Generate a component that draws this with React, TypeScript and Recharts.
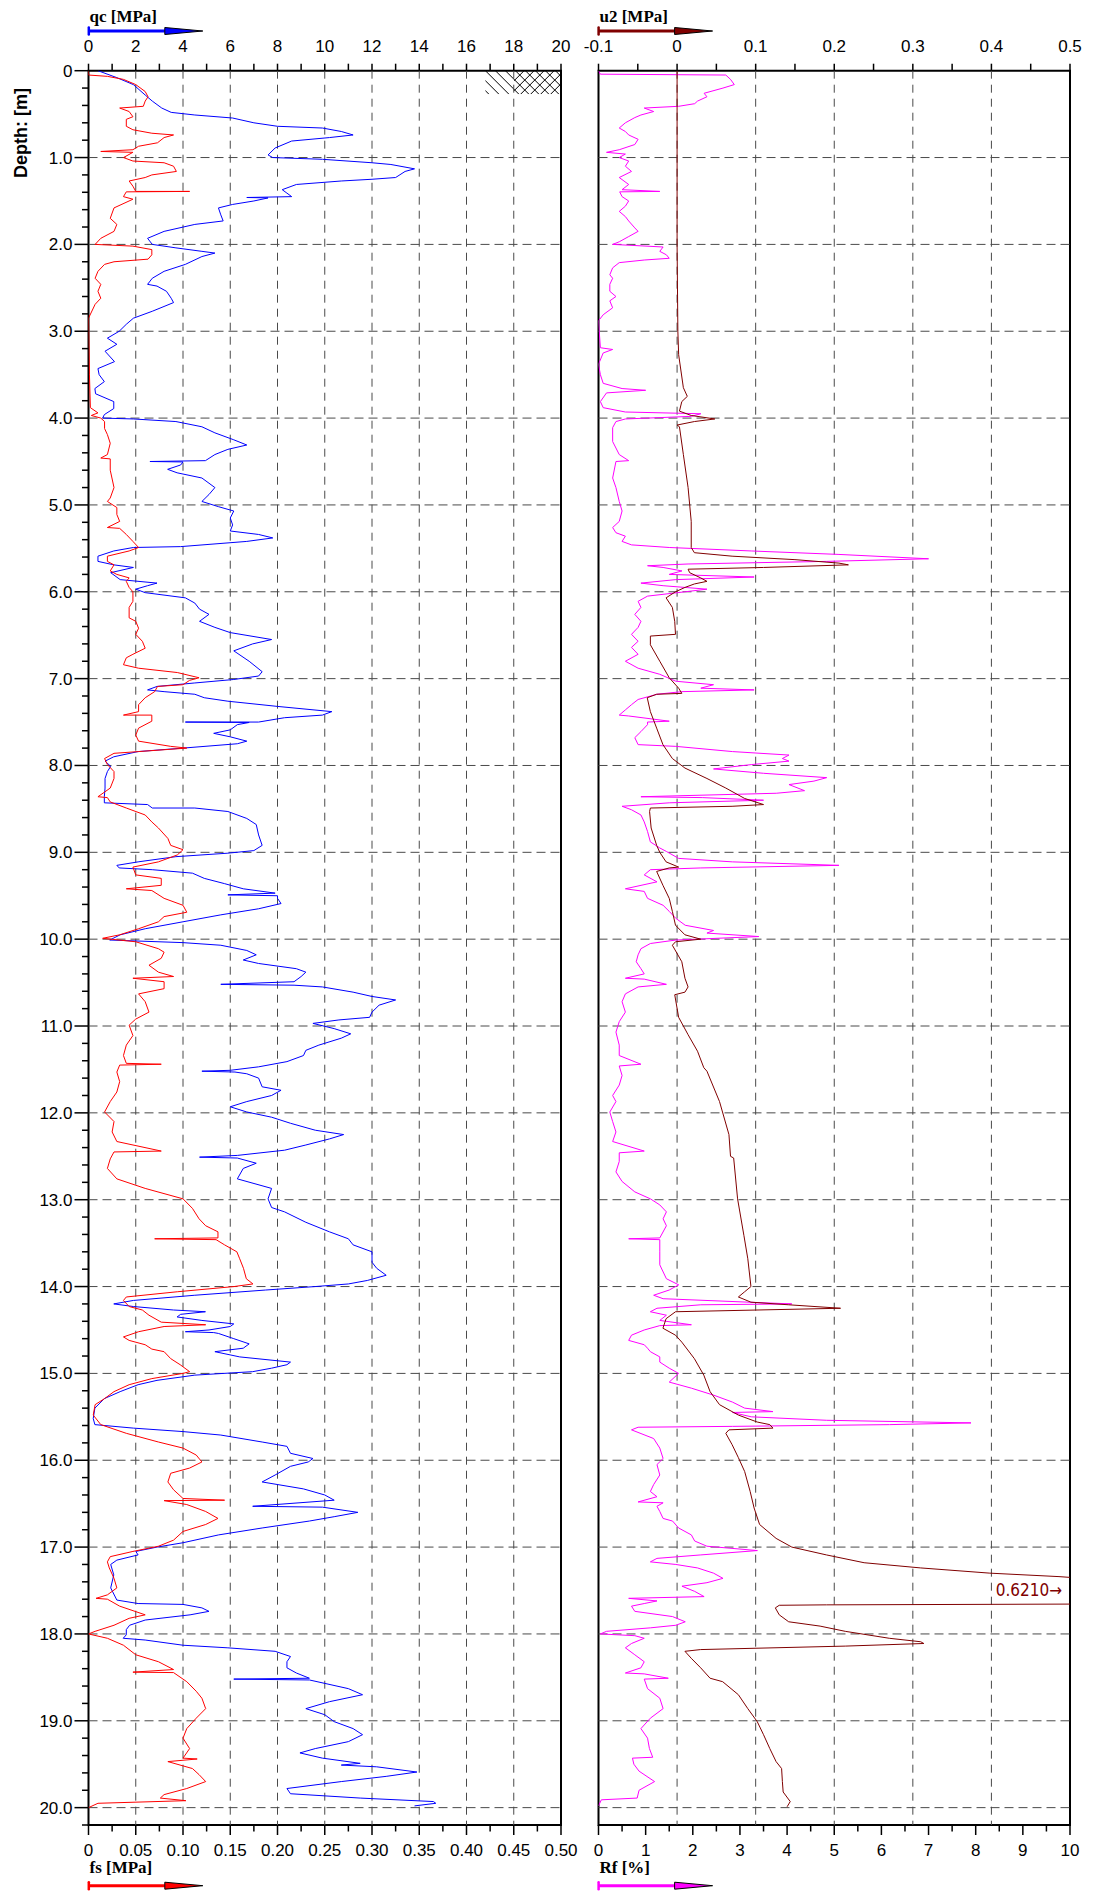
import { LineChart, Line, XAxis, YAxis, ReferenceLine, ReferenceArea, ReferenceDot } from 'recharts'

// CPT sounding, [depth m, value]
const qcProfile: [number, number][] = [
  [0, 0.4], [0.08, 1.2], [0.16, 1.9], [0.28, 2.4], [0.35, 2.7], [0.43, 3.1], [0.48, 3.5], [0.51, 4.5], [0.545, 6.1], [0.6, 7.0],
  [0.64, 8.0], [0.66, 9.9], [0.7, 10.7], [0.74, 11.2], [0.77, 10.2], [0.81, 8.6], [0.89, 7.9], [0.97, 7.6], [1.0, 7.8], [1.02, 9.9],
  [1.06, 12.0], [1.08, 12.8], [1.13, 13.8], [1.16, 13.4], [1.23, 13.0], [1.25, 12.0], [1.27, 10.7], [1.31, 8.8], [1.37, 8.2], [1.41, 8.4],
  [1.45, 8.6], [1.46, 6.7], [1.465, 7.6], [1.5, 7.0], [1.54, 6.1], [1.58, 5.5], [1.66, 5.6], [1.73, 5.7], [1.77, 4.5], [1.85, 3.2],
  [1.93, 2.5], [2.0, 2.7], [2.04, 3.7], [2.08, 4.8], [2.1, 5.35], [2.14, 4.8], [2.23, 4.1], [2.31, 3.2], [2.39, 2.7], [2.46, 2.5],
  [2.48, 2.9], [2.54, 3.3], [2.62, 3.5], [2.67, 3.6], [2.77, 2.7], [2.85, 1.9], [2.92, 1.6], [3.0, 1.3], [3.08, 0.8], [3.15, 1.2],
  [3.23, 0.7], [3.35, 1.1], [3.43, 0.4], [3.5, 0.45], [3.58, 0.67], [3.66, 0.27], [3.72, 0.3], [3.81, 1.07], [3.89, 1.07], [3.96, 0.67],
  [4.0, 0.6], [4.01, 1.9], [4.04, 3.7], [4.1, 4.8], [4.17, 5.35], [4.25, 6.15], [4.31, 6.7], [4.36, 5.9], [4.42, 5.35], [4.49, 4.95],
  [4.5, 2.6], [4.505, 4.0], [4.54, 3.9], [4.59, 3.35], [4.63, 3.75], [4.69, 4.8], [4.8, 5.35], [4.88, 5.1], [4.96, 4.8], [5.02, 5.5],
  [5.07, 6.15], [5.15, 6.0], [5.23, 6.1], [5.3, 6.0], [5.34, 7.2], [5.38, 7.8], [5.42, 6.7], [5.48, 3.9], [5.49, 1.9], [5.53, 1.07],
  [5.59, 0.4], [5.65, 0.4], [5.69, 1.07], [5.72, 1.9], [5.78, 0.94], [5.86, 1.34], [5.9, 2.9], [5.93, 2.5], [5.97, 2.0], [6.01, 2.4],
  [6.07, 4.1], [6.13, 4.5], [6.2, 4.7], [6.26, 5.1], [6.34, 4.7], [6.41, 5.35], [6.47, 6.0], [6.55, 7.75], [6.6, 6.95], [6.68, 6.15],
  [6.8, 6.8], [6.92, 7.35], [6.97, 7.2], [7.01, 6.15], [7.05, 4.5], [7.09, 2.9], [7.13, 2.5], [7.15, 3.2], [7.18, 4.5], [7.22, 4.9],
  [7.26, 5.9], [7.32, 8.0], [7.38, 10.3], [7.42, 9.9], [7.45, 8.3], [7.5, 7.2], [7.5, 4.1], [7.505, 6.8], [7.53, 6.3], [7.59, 6.0],
  [7.63, 5.3], [7.67, 6.0], [7.72, 6.7], [7.75, 6.3], [7.8, 4.0], [7.84, 2.1], [7.9, 1.07], [7.95, 0.7], [8.01, 0.94], [8.07, 0.8],
  [8.15, 0.7], [8.26, 0.7], [8.36, 0.67], [8.43, 0.67], [8.45, 2.5], [8.49, 2.7], [8.49, 4.5], [8.53, 5.9], [8.61, 6.7], [8.68, 7.1],
  [8.8, 7.2], [8.92, 7.35], [8.98, 7.0], [9.01, 5.9], [9.05, 3.7], [9.11, 2.1], [9.15, 1.2], [9.18, 1.3], [9.2, 2.7], [9.24, 4.4],
  [9.3, 4.9], [9.36, 5.75], [9.42, 6.55], [9.47, 7.9], [9.49, 5.9], [9.5, 8.0], [9.53, 8.0], [9.59, 8.15], [9.65, 7.2], [9.72, 5.6],
  [9.8, 4.0], [9.88, 2.4], [9.95, 1.34], [10.01, 0.9], [10.04, 4.0], [10.07, 5.6], [10.13, 6.7], [10.18, 7.1], [10.24, 6.55], [10.28, 7.2],
  [10.34, 8.8], [10.38, 9.2], [10.43, 9.0], [10.49, 8.7], [10.52, 5.6], [10.53, 8.7], [10.55, 9.9], [10.61, 11.2], [10.66, 12.0], [10.7, 13.0],
  [10.76, 12.3], [10.84, 12.0], [10.9, 11.9], [10.93, 10.6], [10.97, 9.5], [11.03, 10.4], [11.09, 11.1], [11.14, 10.7], [11.22, 9.75], [11.28, 9.2],
  [11.34, 9.1], [11.41, 8.4], [11.47, 7.2], [11.51, 6.0], [11.52, 4.8], [11.53, 6.2], [11.55, 6.7], [11.6, 7.2], [11.7, 7.35], [11.74, 8.15],
  [11.8, 7.75], [11.87, 6.7], [11.93, 6.0], [11.99, 6.7], [12.05, 7.75], [12.12, 8.55], [12.2, 9.6], [12.25, 10.8], [12.3, 10.2], [12.37, 9.2],
  [12.43, 8.3], [12.49, 6.3], [12.51, 4.7], [12.52, 6.3], [12.58, 7.1], [12.64, 6.55], [12.76, 6.3], [12.87, 7.75], [12.99, 7.6], [13.09, 7.75],
  [13.14, 8.3], [13.26, 9.2], [13.37, 10.2], [13.45, 11.0], [13.52, 11.2], [13.6, 12.0], [13.72, 12.0], [13.79, 12.2], [13.87, 12.6], [13.93, 11.8],
  [13.97, 11.0], [14.0, 9.6], [14.04, 7.5], [14.1, 4.5], [14.16, 1.9], [14.2, 1.07], [14.23, 1.9], [14.27, 3.6], [14.29, 4.95], [14.32, 3.9],
  [14.35, 3.75], [14.39, 4.8], [14.43, 6.15], [14.46, 6.0], [14.5, 5.1], [14.52, 4.1], [14.53, 5.3], [14.54, 5.5], [14.6, 6.15], [14.66, 6.8],
  [14.71, 6.55], [14.75, 5.35], [14.81, 6.4], [14.87, 8.55], [14.9, 8.4], [14.94, 7.75], [14.98, 6.95], [15.02, 4.5], [15.08, 2.9], [15.13, 2.1],
  [15.21, 1.34], [15.29, 0.67], [15.4, 0.27], [15.52, 0.2], [15.59, 0.27], [15.63, 1.9], [15.67, 4.0], [15.71, 5.6], [15.79, 7.35], [15.84, 8.4],
  [15.92, 8.55], [15.98, 9.5], [16.02, 9.3], [16.07, 8.55], [16.17, 7.9], [16.25, 7.35], [16.33, 9.1], [16.4, 10.0], [16.46, 10.4], [16.53, 6.95],
  [16.54, 9.9], [16.6, 11.4], [16.65, 10.4], [16.7, 9.35], [16.78, 7.35], [16.86, 5.5], [16.95, 4.0], [17.0, 2.9], [17.05, 2.0], [17.09, 2.1],
  [17.15, 1.2], [17.2, 0.94], [17.32, 1.07], [17.47, 0.94], [17.61, 1.2], [17.65, 2.1], [17.66, 4.0], [17.7, 4.8], [17.74, 5.1], [17.78, 4.3],
  [17.84, 2.4], [17.9, 1.74], [17.95, 1.6], [18.01, 1.6], [18.05, 1.47], [18.07, 2.4], [18.13, 4.0], [18.16, 5.9], [18.2, 7.9], [18.26, 8.55],
  [18.32, 8.4], [18.39, 8.4], [18.45, 8.8], [18.51, 9.35], [18.52, 6.15], [18.53, 9.35], [18.63, 11.0], [18.7, 11.6], [18.78, 10.2], [18.86, 9.2],
  [18.93, 10.0], [19.01, 10.4], [19.09, 11.2], [19.16, 11.6], [19.24, 11.0], [19.32, 9.6], [19.37, 8.95], [19.43, 9.9], [19.49, 11.5], [19.51, 10.7],
  [19.53, 12.2], [19.59, 13.9], [19.64, 12.6], [19.7, 10.7], [19.78, 8.4], [19.84, 8.55], [19.89, 11.5], [19.93, 14.6], [19.95, 14.7], [19.98, 13.8],
]

const fsProfile: [number, number][] = [
  [0, 0], [0.05, 0], [0.065, 0.02], [0.1, 0.037], [0.16, 0.05], [0.24, 0.06], [0.3, 0.063], [0.35, 0.06], [0.41, 0.058], [0.43, 0.033],
  [0.47, 0.043], [0.53, 0.047], [0.56, 0.04], [0.64, 0.04], [0.68, 0.047], [0.72, 0.067], [0.74, 0.09], [0.77, 0.08], [0.83, 0.073], [0.87, 0.053],
  [0.91, 0.047], [0.93, 0.013], [0.94, 0.047], [1.0, 0.037], [1.04, 0.047], [1.06, 0.08], [1.1, 0.09], [1.16, 0.093], [1.2, 0.067], [1.23, 0.06],
  [1.27, 0.043], [1.33, 0.047], [1.39, 0.05], [1.39, 0.107], [1.395, 0.04], [1.45, 0.037], [1.48, 0.047], [1.58, 0.027], [1.7, 0.023], [1.77, 0.03],
  [1.85, 0.027], [1.93, 0.013], [2.0, 0.007], [2.02, 0.047], [2.06, 0.067], [2.12, 0.067], [2.17, 0.063], [2.2, 0.027], [2.23, 0.017], [2.31, 0.01],
  [2.39, 0.007], [2.46, 0.013], [2.54, 0.01], [2.62, 0.013], [2.69, 0.007], [2.85, 0], [3.5, 0.001], [3.88, 0.002], [3.94, 0.01], [3.97, 0.003],
  [4.0, 0.013], [4.04, 0.017], [4.12, 0.017], [4.19, 0.02], [4.29, 0.023], [4.42, 0.02], [4.46, 0.013], [4.47, 0.023], [4.6, 0.023], [4.8, 0.027],
  [4.92, 0.023], [4.96, 0.02], [5.03, 0.03], [5.11, 0.03], [5.19, 0.033], [5.26, 0.02], [5.27, 0.033], [5.34, 0.04], [5.42, 0.047], [5.49, 0.053],
  [5.53, 0.043], [5.59, 0.02], [5.65, 0.02], [5.69, 0.027], [5.76, 0.023], [5.8, 0.03], [5.84, 0.043], [5.88, 0.04], [5.95, 0.043], [6.0, 0.047],
  [6.11, 0.047], [6.18, 0.043], [6.3, 0.043], [6.34, 0.05], [6.42, 0.053], [6.49, 0.05], [6.57, 0.057], [6.65, 0.06], [6.72, 0.047], [6.76, 0.04],
  [6.84, 0.037], [6.88, 0.053], [6.93, 0.094], [6.99, 0.117], [7.02, 0.107], [7.07, 0.1], [7.09, 0.073], [7.15, 0.07], [7.22, 0.06], [7.3, 0.053],
  [7.38, 0.053], [7.42, 0.037], [7.42, 0.067], [7.49, 0.067], [7.57, 0.053], [7.65, 0.05], [7.72, 0.053], [7.78, 0.087], [7.8, 0.104], [7.84, 0.053],
  [7.86, 0.027], [7.92, 0.017], [7.99, 0.02], [8.07, 0.027], [8.15, 0.027], [8.26, 0.023], [8.36, 0.01], [8.37, 0.02], [8.42, 0.023], [8.49, 0.04],
  [8.57, 0.06], [8.65, 0.067], [8.72, 0.074], [8.84, 0.084], [8.92, 0.087], [8.97, 0.1], [9.03, 0.094], [9.11, 0.074], [9.17, 0.047], [9.26, 0.05],
  [9.3, 0.077], [9.38, 0.077], [9.42, 0.04], [9.44, 0.067], [9.53, 0.08], [9.61, 0.1], [9.69, 0.104], [9.74, 0.08], [9.8, 0.074], [9.88, 0.053],
  [9.95, 0.033], [9.99, 0.015], [10.03, 0.05], [10.11, 0.074], [10.15, 0.08], [10.22, 0.077], [10.3, 0.064], [10.38, 0.074], [10.43, 0.09], [10.45, 0.047],
  [10.49, 0.08], [10.57, 0.08], [10.63, 0.053], [10.72, 0.06], [10.84, 0.064], [10.92, 0.05], [10.99, 0.043], [11.11, 0.047], [11.22, 0.04], [11.34, 0.037],
  [11.43, 0.04], [11.44, 0.077], [11.45, 0.033], [11.53, 0.03], [11.64, 0.033], [11.76, 0.03], [11.87, 0.023], [11.99, 0.017], [12.1, 0.027], [12.22, 0.025],
  [12.33, 0.03], [12.44, 0.077], [12.45, 0.027], [12.53, 0.023], [12.64, 0.02], [12.76, 0.03], [12.87, 0.06], [12.99, 0.1], [13.1, 0.11], [13.22, 0.117],
  [13.3, 0.124], [13.37, 0.137], [13.44, 0.137], [13.45, 0.07], [13.46, 0.135], [13.52, 0.144], [13.6, 0.157], [13.68, 0.16], [13.79, 0.164], [13.91, 0.167],
  [13.97, 0.174], [14.0, 0.154], [14.06, 0.094], [14.12, 0.04], [14.16, 0.037], [14.23, 0.043], [14.27, 0.057], [14.33, 0.064], [14.41, 0.077], [14.44, 0.124],
  [14.46, 0.08], [14.52, 0.053], [14.58, 0.037], [14.62, 0.043], [14.67, 0.06], [14.72, 0.067], [14.75, 0.08], [14.83, 0.087], [14.9, 0.097], [14.98, 0.107],
  [15.0, 0.1], [15.06, 0.067], [15.13, 0.043], [15.21, 0.027], [15.29, 0.017], [15.36, 0.007], [15.48, 0.005], [15.59, 0.013], [15.69, 0.04], [15.79, 0.074],
  [15.86, 0.1], [15.94, 0.114], [16.02, 0.12], [16.09, 0.107], [16.15, 0.087], [16.25, 0.084], [16.34, 0.09], [16.44, 0.1], [16.46, 0.144], [16.465, 0.08],
  [16.51, 0.104], [16.59, 0.124], [16.67, 0.137], [16.74, 0.124], [16.82, 0.1], [16.92, 0.09], [16.99, 0.074], [17.05, 0.047], [17.11, 0.023], [17.17, 0.02],
  [17.24, 0.022], [17.36, 0.027], [17.47, 0.03], [17.55, 0.02], [17.59, 0.008], [17.6, 0.02], [17.68, 0.033], [17.78, 0.06], [17.82, 0.043], [17.9, 0.027],
  [17.97, 0.007], [18.0, 0], [18.05, 0.02], [18.13, 0.037], [18.24, 0.05], [18.32, 0.074], [18.41, 0.09], [18.44, 0.047], [18.445, 0.09], [18.55, 0.104],
  [18.66, 0.114], [18.74, 0.12], [18.86, 0.124], [18.97, 0.114], [19.09, 0.104], [19.2, 0.1], [19.32, 0.107], [19.43, 0.1], [19.44, 0.115], [19.47, 0.084],
  [19.55, 0.11], [19.62, 0.117], [19.7, 0.124], [19.78, 0.104], [19.85, 0.08], [19.89, 0.076], [19.92, 0.103], [19.95, 0.01], [20.0, 0],
]

const u2Profile: [number, number][] = [
  [0, 0], [1, 0], [2, 0], [3, 0.001], [3.27, 0.002], [3.65, 0.008], [3.75, 0.013], [3.81, 0.006], [3.92, 0.003], [3.97, 0.018],
  [4.01, 0.048], [4.04, 0.022], [4.08, 0.0], [4.1, 0.003], [4.42, 0.008], [4.8, 0.014], [5.19, 0.018], [5.49, 0.018], [5.55, 0.022], [5.59, 0.07],
  [5.63, 0.15], [5.67, 0.206], [5.69, 0.218], [5.72, 0.11], [5.74, 0.014], [5.78, 0.016], [5.84, 0.03], [5.88, 0.038], [5.91, 0.022], [5.95, 0.01],
  [6.0, -0.002], [6.07, -0.014], [6.18, -0.006], [6.34, -0.003], [6.49, -0.002], [6.51, -0.034], [6.61, -0.034], [6.8, -0.022], [6.99, -0.01], [7.11, 0.002],
  [7.17, 0.006], [7.18, -0.026], [7.22, -0.038], [7.38, -0.034], [7.57, -0.026], [7.76, -0.018], [7.92, -0.006], [8.03, 0.01], [8.15, 0.038], [8.26, 0.062],
  [8.38, 0.086], [8.45, 0.11], [8.47, 0.07], [8.49, -0.034], [8.53, -0.035], [8.72, -0.033], [8.92, -0.026], [9.0, -0.022], [9.11, -0.014], [9.17, 0.002],
  [9.18, -0.01], [9.22, -0.026], [9.38, -0.018], [9.53, -0.01], [9.68, -0.006], [9.84, -0.002], [9.95, 0.01], [10.0, 0.03], [10.03, -0.002], [10.07, -0.006],
  [10.26, 0.006], [10.45, 0.01], [10.55, 0.014], [10.61, 0.01], [10.64, -0.003], [10.9, 0.002], [11.1, 0.014], [11.29, 0.026], [11.48, 0.034], [11.52, 0.038],
  [11.87, 0.054], [12.25, 0.066], [12.5, 0.068], [12.52, 0.072], [12.99, 0.077], [13.41, 0.085], [13.68, 0.09], [14.0, 0.094], [14.06, 0.086], [14.12, 0.078],
  [14.18, 0.094], [14.21, 0.142], [14.25, 0.208], [14.29, -0.002], [14.37, -0.014], [14.48, -0.018], [14.56, -0.002], [14.64, 0.006], [14.83, 0.022], [15.02, 0.034],
  [15.21, 0.042], [15.36, 0.054], [15.48, 0.078], [15.56, 0.102], [15.59, 0.118], [15.63, 0.122], [15.65, 0.066], [15.69, 0.062], [15.82, 0.07], [15.97, 0.078],
  [16.13, 0.086], [16.36, 0.093], [16.55, 0.098], [16.74, 0.105], [16.9, 0.126], [17.0, 0.146], [17.09, 0.19], [17.18, 0.238], [17.24, 0.31], [17.3, 0.398],
  [17.34, 0.486], [17.4, 0.58], [17.5, 0.621], [17.6, 0.6], [17.655, 0.55], [17.665, 0.19], [17.67, 0.13], [17.7, 0.125], [17.78, 0.13], [17.86, 0.142],
  [17.91, 0.182], [17.97, 0.214], [18.05, 0.27], [18.09, 0.31], [18.11, 0.314], [18.14, 0.214], [18.18, 0.03], [18.2, 0.01], [18.28, 0.018], [18.39, 0.03],
  [18.51, 0.042], [18.55, 0.058], [18.7, 0.078], [18.86, 0.09], [19.01, 0.102], [19.16, 0.11], [19.32, 0.118], [19.47, 0.126], [19.55, 0.133], [19.7, 0.134],
  [19.82, 0.135], [19.93, 0.144], [19.99, 0.14],
]

const rfProfile: [number, number][] = [
  [0, 0], [0.04, 0.04], [0.05, 2.7], [0.1, 2.8], [0.16, 2.88], [0.2, 2.64], [0.26, 2.24], [0.3, 2.3], [0.35, 2.1], [0.38, 2.04],
  [0.41, 1.7], [0.43, 0.97], [0.47, 1.17], [0.51, 0.9], [0.54, 0.77], [0.6, 0.57], [0.66, 0.44], [0.7, 0.57], [0.74, 0.64], [0.79, 0.84],
  [0.85, 0.77], [0.91, 0.44], [0.94, 0.17], [0.96, 0.57], [1.0, 0.44], [1.04, 0.64], [1.1, 0.57], [1.16, 0.7], [1.23, 0.44], [1.31, 0.64],
  [1.37, 0.5], [1.39, 1.3], [1.395, 0.45], [1.45, 0.5], [1.5, 0.64], [1.56, 0.57], [1.62, 0.44], [1.68, 0.57], [1.73, 0.64], [1.81, 0.77],
  [1.85, 0.84], [1.91, 0.64], [1.97, 0.44], [2.0, 0.3], [2.03, 1.37], [2.08, 1.3], [2.12, 1.44], [2.16, 1.5], [2.18, 0.97], [2.21, 0.44],
  [2.27, 0.3], [2.35, 0.24], [2.39, 0.3], [2.46, 0.24], [2.54, 0.24], [2.6, 0.37], [2.65, 0.24], [2.73, 0.3], [2.81, 0.1], [2.88, 0],
  [3.19, 0.04], [3.21, 0.3], [3.25, 0.1], [3.38, 0], [3.5, 0.04], [3.6, 0.1], [3.66, 0.5], [3.68, 1.0], [3.71, 0.17], [3.81, 0.04],
  [3.88, 0.1], [3.93, 0.57], [3.95, 2.17], [3.98, 1.97], [4.01, 0.57], [4.04, 0.37], [4.11, 0.3], [4.27, 0.3], [4.42, 0.44], [4.49, 0.64],
  [4.5, 0.37], [4.69, 0.3], [4.8, 0.37], [4.96, 0.44], [5.07, 0.5], [5.19, 0.44], [5.26, 0.3], [5.32, 0.37], [5.36, 0.57], [5.42, 0.5],
  [5.46, 0.7], [5.49, 1.5], [5.53, 3.24], [5.57, 5.1], [5.62, 7.0], [5.65, 4.84], [5.68, 1.9], [5.7, 1.04], [5.72, 1.37], [5.76, 1.77],
  [5.8, 1.5], [5.83, 3.3], [5.86, 1.64], [5.9, 0.9], [5.93, 1.37], [5.97, 2.3], [6.0, 1.84], [6.05, 1.04], [6.11, 0.84], [6.18, 0.9],
  [6.26, 0.77], [6.34, 0.9], [6.41, 0.84], [6.49, 0.7], [6.57, 0.84], [6.64, 0.7], [6.72, 0.84], [6.8, 0.57], [6.88, 0.84], [6.95, 1.3],
  [7.03, 1.64], [7.07, 2.44], [7.11, 2.17], [7.13, 3.3], [7.15, 1.77], [7.18, 1.24], [7.24, 0.84], [7.3, 0.7], [7.36, 0.57], [7.42, 0.44],
  [7.43, 0.64], [7.49, 1.5], [7.5, 1.04], [7.53, 1.04], [7.61, 0.9], [7.68, 0.77], [7.76, 0.84], [7.78, 1.64], [7.84, 2.84], [7.88, 4.04],
  [7.92, 3.9], [7.95, 4.04], [7.99, 3.24], [8.04, 2.44], [8.09, 3.5], [8.14, 4.84], [8.18, 4.57], [8.22, 4.04], [8.29, 4.37], [8.32, 3.77],
  [8.36, 0.9], [8.37, 2.2], [8.4, 3.5], [8.43, 1.5], [8.47, 0.5], [8.51, 0.7], [8.57, 0.9], [8.65, 0.97], [8.76, 1.04], [8.88, 1.1],
  [8.95, 1.3], [8.99, 1.44], [9.07, 1.7], [9.11, 2.84], [9.15, 5.1], [9.18, 2.17], [9.2, 1.1], [9.26, 0.97], [9.34, 1.24], [9.42, 0.57],
  [9.45, 0.97], [9.53, 1.04], [9.61, 1.37], [9.68, 1.5], [9.76, 1.64], [9.84, 1.84], [9.9, 2.44], [9.93, 2.3], [9.97, 3.4], [10.01, 1.64],
  [10.05, 1.1], [10.11, 0.9], [10.18, 0.84], [10.26, 0.8], [10.34, 0.9], [10.4, 0.97], [10.45, 0.57], [10.46, 0.97], [10.52, 1.44], [10.55, 0.84],
  [10.63, 0.57], [10.72, 0.5], [10.84, 0.57], [10.95, 0.44], [11.07, 0.37], [11.22, 0.44], [11.34, 0.44], [11.44, 0.9], [11.46, 0.44], [11.57, 0.5],
  [11.68, 0.44], [11.8, 0.3], [11.87, 0.37], [11.99, 0.24], [12.1, 0.3], [12.22, 0.37], [12.33, 0.3], [12.44, 0.97], [12.46, 0.44], [12.56, 0.44],
  [12.68, 0.37], [12.79, 0.5], [12.91, 0.77], [12.99, 1.1], [13.06, 1.3], [13.14, 1.44], [13.22, 1.37], [13.3, 1.44], [13.44, 1.3], [13.45, 0.64],
  [13.46, 1.3], [13.6, 1.3], [13.75, 1.3], [13.91, 1.44], [13.98, 1.7], [14.04, 1.5], [14.1, 1.17], [14.14, 1.37], [14.2, 4.1], [14.21, 2.17],
  [14.25, 1.24], [14.29, 1.1], [14.33, 1.44], [14.39, 1.3], [14.44, 1.97], [14.45, 1.3], [14.5, 0.97], [14.56, 0.7], [14.62, 0.64], [14.67, 0.97],
  [14.71, 1.04], [14.75, 1.1], [14.81, 1.3], [14.87, 1.3], [14.94, 1.5], [15.0, 1.7], [15.1, 1.5], [15.17, 1.97], [15.25, 2.44], [15.33, 2.84],
  [15.4, 3.1], [15.44, 3.7], [15.45, 2.84], [15.5, 3.24], [15.54, 4.84], [15.57, 7.9], [15.59, 6.17], [15.61, 2.84], [15.62, 0.84], [15.65, 0.7],
  [15.75, 1.17], [15.86, 1.3], [15.98, 1.37], [16.05, 1.24], [16.17, 1.3], [16.28, 1.17], [16.36, 1.1], [16.42, 1.24], [16.48, 0.84], [16.49, 1.37],
  [16.53, 1.24], [16.59, 1.3], [16.67, 1.37], [16.7, 1.57], [16.78, 1.7], [16.86, 1.97], [16.93, 2.04], [16.99, 2.3], [17.04, 3.37], [17.09, 2.17],
  [17.13, 1.24], [17.17, 1.1], [17.2, 1.64], [17.24, 2.1], [17.3, 2.44], [17.36, 2.64], [17.41, 2.3], [17.45, 1.77], [17.51, 2.04], [17.57, 2.24],
  [17.59, 0.64], [17.62, 1.24], [17.65, 0.97], [17.68, 0.7], [17.74, 0.77], [17.8, 1.57], [17.86, 1.84], [17.9, 1.64], [17.93, 1.1], [17.97, 0.17],
  [18.0, 0.04], [18.02, 0.77], [18.05, 0.97], [18.11, 0.7], [18.16, 0.57], [18.24, 0.77], [18.32, 0.97], [18.39, 0.9], [18.45, 0.57], [18.46, 0.97],
  [18.51, 1.48], [18.52, 0.97], [18.63, 1.04], [18.74, 1.3], [18.86, 1.37], [18.97, 1.1], [19.09, 0.9], [19.2, 1.04], [19.32, 1.08], [19.42, 1.15],
  [19.43, 0.72], [19.5, 0.75], [19.58, 0.86], [19.7, 1.19], [19.8, 0.86], [19.89, 0.82], [19.91, 0.06], [19.98, 0],
]

// axis labels
const depthMajor = [0, 1, 2, 3, 4, 5, 6, 7, 8, 9, 10, 11, 12, 13, 14, 15, 16, 17, 18, 19, 20]
const qcMajor = [0, 2, 4, 6, 8, 10, 12, 14, 16, 18, 20]
const fsMajor = [0, 0.05, 0.1, 0.15, 0.2, 0.25, 0.3, 0.35, 0.4, 0.45, 0.5]
const u2Major = [-0.1, 0, 0.1, 0.2, 0.3, 0.4, 0.5]
const rfMajor = [0, 1, 2, 3, 4, 5, 6, 7, 8, 9, 10]
const qcGrid = [2, 4, 6, 8, 10, 12, 14, 16, 18]
const u2Grid = [0, 0.1, 0.2, 0.3, 0.4]
const gridDepths = depthMajor.slice(1)

const steps = (from: number, to: number, step: number) => {
  const out: number[] = []
  const n = Math.round((to - from) / step)
  for (let i = 0; i <= n; i++) out.push(Math.round((from + i * step) * 10000) / 10000)
  return out
}
const depthTicks = steps(0, 20.2, 0.2)
const qcTicks = steps(0, 20, 1)
const fsTicks = steps(0, 0.5, 0.025)
const u2Ticks = steps(-0.1, 0.5, 0.05)
const rfTicks = steps(0, 10, 0.5)

const toRows = (p: [number, number][]) => p.map(([d, v]) => ({ d, v }))

const SANS = "'Liberation Sans', Arial, sans-serif"
const SERIF = "'Liberation Serif', 'Times New Roman', serif"
const BLUE = '#0000ff'
const RED = '#ff0000'
const MAROON = '#800000'
const MAGENTA = '#ff00ff'
const GRID = '#4a4a4a'

const isIn = (list: number[], v: number) => list.some((m) => Math.abs(m - v) < 1e-6)

const makeXTick = (side: 'top' | 'bottom', major: number[], fmt: (v: number) => string) => (props: any) => {
  const { x, y, payload } = props
  const v = payload.value
  const big = isIn(major, v)
  if (side === 'top') {
    return (
      <g>
        <line x1={x} x2={x} y1={y} y2={y - 7} stroke="#000" strokeWidth={1.5} />
        {big && (
          <text x={x} y={y - 19} textAnchor="middle" fontSize={17} fontFamily={SANS} fill="#000">
            {fmt(v)}
          </text>
        )}
      </g>
    )
  }
  return (
    <g>
      <line x1={x} x2={x} y1={y} y2={y + (big ? 10 : 6.5)} stroke="#000" strokeWidth={1.5} />
      {big && (
        <text x={x} y={y + 31} textAnchor="middle" fontSize={17} fontFamily={SANS} fill="#000">
          {fmt(v)}
        </text>
      )}
    </g>
  )
}

const DepthTick = (props: any) => {
  const { x, y, payload } = props
  const v = payload.value
  const big = isIn(depthMajor, v)
  return (
    <g>
      <line x1={x} x2={x - (big ? 14 : 6.5)} y1={y} y2={y} stroke="#000" strokeWidth={1.5} />
      {big && (
        <text x={x - 16} y={y + 6} textAnchor="end" fontSize={17} fontFamily={SANS} fill="#000">
          {v === 0 ? '0' : v.toFixed(1)}
        </text>
      )}
    </g>
  )
}

const qcTick = makeXTick('top', qcMajor, (v) => String(v))
const fsTick = makeXTick('bottom', fsMajor, (v) => (v === 0 ? '0' : v.toFixed(2)))
const u2Tick = makeXTick('top', u2Major, (v) => (v === 0 ? '0' : String(v)))
const rfTick = makeXTick('bottom', rfMajor, (v) => String(v))

// soil symbol in the top right corner of the left track
const Hatch = (props: any) => {
  const { x, y, width, height } = props
  const s = 10
  const back: JSX.Element[] = []
  const fwd: JSX.Element[] = []
  for (let k = -3; k * s < width + height; k++) {
    const x0 = x + k * s
    back.push(<line key={'b' + k} x1={x0} y1={y} x2={x0 + height} y2={y + height} stroke="#000" strokeWidth={1} />)
  }
  const split = x + width * 0.38
  for (let k = 0; k * s < width + height + s; k++) {
    const x0 = split + k * s
    fwd.push(<line key={'f' + k} x1={x0} y1={y} x2={x0 - height} y2={y + height} stroke="#000" strokeWidth={1} />)
  }
  return (
    <g>
      <defs>
        <clipPath id="hatchClip">
          <rect x={x} y={y} width={width} height={height} />
        </clipPath>
        <clipPath id="hatchClipRight">
          <rect x={split} y={y} width={x + width - split} height={height} />
        </clipPath>
      </defs>
      <g clipPath="url(#hatchClip)">{back}</g>
      <g clipPath="url(#hatchClipRight)">{fwd}</g>
    </g>
  )
}

const Note = (props: any) => {
  const { cx, cy } = props
  return (
    <text x={cx - 8} y={cy + 6} textAnchor="end" fontSize={17} fill={MAROON}
      fontFamily="'Liberation Sans Narrow', 'DejaVu Sans Condensed', sans-serif">
      0.6210→
    </text>
  )
}

const Arrow = ({ x, y, color }: { x: number; y: number; color: string }) => (
  <g>
    <line x1={x} x2={x + 76} y1={y} y2={y} stroke={color} strokeWidth={3} />
    <line x1={x} x2={x} y1={y - 3.5} y2={y + 3.5} stroke={color} strokeWidth={2.5} strokeLinecap="round" />
    <polygon points={`${x + 76},${y - 3.5} ${x + 114},${y} ${x + 76},${y + 3.5}`} fill={color} stroke="#000" strokeWidth={1} />
  </g>
)

const Title = ({ x, y, text }: { x: number; y: number; text: string }) => (
  <text x={x} y={y} fontFamily={SERIF} fontWeight="bold" fontSize={17} fill="#000">
    {text}
  </text>
)

const qcRows = toRows(qcProfile)
const fsRows = toRows(fsProfile)
const u2Rows = toRows(u2Profile)
const rfRows = toRows(rfProfile)

export default function App() {
  return (
    <div style={{ position: 'absolute', left: 0, top: 0, width: 1101, height: 1892, background: '#fff' }}>
      <div style={{ position: 'absolute', left: 0, top: 0 }}>
        <LineChart width={580} height={1892} layout="vertical" margin={{ top: 30.7, right: 19, bottom: 27, left: 28.5 }}>
          <XAxis xAxisId="qc" orientation="top" type="number" domain={[0, 20]} ticks={qcTicks} interval={0} height={40}
            tickSize={0} tickMargin={0} tickLine={false} axisLine={false} tick={qcTick} allowDataOverflow />
          <XAxis xAxisId="fs" orientation="bottom" type="number" domain={[0, 0.5]} ticks={fsTicks} interval={0} height={40}
            tickSize={0} tickMargin={0} tickLine={false} axisLine={false} tick={fsTick} allowDataOverflow />
          <YAxis type="number" dataKey="d" domain={[0, 20.2]} ticks={depthTicks} interval={0} width={60}
            tickSize={0} tickMargin={0} tickLine={false} axisLine={false} tick={DepthTick} allowDataOverflow />
          {gridDepths.map((d) => (
            <ReferenceLine key={'h' + d} xAxisId="qc" y={d} stroke={GRID} strokeDasharray="9 5" />
          ))}
          {qcGrid.map((v) => (
            <ReferenceLine key={'v' + v} xAxisId="qc" x={v} stroke={GRID} strokeDasharray="8 6" />
          ))}
          <ReferenceArea xAxisId="qc" x1={16.8} x2={20} y1={0} y2={0.27} shape={Hatch} />
          <Line data={qcRows} xAxisId="qc" dataKey="v" stroke={BLUE} strokeWidth={1} dot={false} isAnimationActive={false} />
          <Line data={fsRows} xAxisId="fs" dataKey="v" stroke={RED} strokeWidth={1} dot={false} isAnimationActive={false} />
          <ReferenceArea xAxisId="qc" x1={0} x2={20} y1={0} y2={20.2} fill="none" stroke="#000" strokeWidth={2} />
        </LineChart>
      </div>
      <div style={{ position: 'absolute', left: 580, top: 0 }}>
        <LineChart width={521} height={1892} layout="vertical" margin={{ top: 30.7, right: 31, bottom: 27, left: 18.5 }}>
          <XAxis xAxisId="u2" orientation="top" type="number" domain={[-0.1, 0.5]} ticks={u2Ticks} interval={0} height={40}
            tickSize={0} tickMargin={0} tickLine={false} axisLine={false} tick={u2Tick} allowDataOverflow />
          <XAxis xAxisId="rf" orientation="bottom" type="number" domain={[0, 10]} ticks={rfTicks} interval={0} height={40}
            tickSize={0} tickMargin={0} tickLine={false} axisLine={false} tick={rfTick} allowDataOverflow />
          <YAxis type="number" dataKey="d" domain={[0, 20.2]} hide allowDataOverflow />
          {gridDepths.map((d) => (
            <ReferenceLine key={'h' + d} xAxisId="u2" y={d} stroke={GRID} strokeDasharray="9 5" />
          ))}
          {u2Grid.map((v) => (
            <ReferenceLine key={'v' + v} xAxisId="u2" x={v} stroke={GRID} strokeDasharray="8 6" />
          ))}
          <Line data={rfRows} xAxisId="rf" dataKey="v" stroke={MAGENTA} strokeWidth={1} dot={false} isAnimationActive={false} />
          <Line data={u2Rows} xAxisId="u2" dataKey="v" stroke={MAROON} strokeWidth={1} dot={false} isAnimationActive={false} />
          <ReferenceDot xAxisId="u2" x={0.5} y={17.49} r={0} ifOverflow="visible" shape={Note} />
          <ReferenceArea xAxisId="u2" x1={-0.1} x2={0.5} y1={0} y2={20.2} fill="none" stroke="#000" strokeWidth={2} />
        </LineChart>
      </div>
      <svg width={1101} height={1892} style={{ position: 'absolute', left: 0, top: 0, pointerEvents: 'none' }}>
        <text x={21} y={133} transform="rotate(-90 21 133)" textAnchor="middle" dy="0.35em" fontWeight="bold" fontSize={18} fontFamily={SANS} fill="#000">
          Depth: [m]
        </text>
        <Title x={89.5} y={21.5} text="qc [MPa]" />
        <Arrow x={88.8} y={31} color={BLUE} />
        <Title x={599.5} y={21.5} text="u2 [MPa]" />
        <Arrow x={598.6} y={31} color={MAROON} />
        <Title x={89.5} y={1873} text="fs [MPa]" />
        <Arrow x={88.8} y={1885.7} color={RED} />
        <Title x={599.5} y={1873} text="Rf [%]" />
        <Arrow x={598.6} y={1885.7} color={MAGENTA} />
      </svg>
    </div>
  )
}
